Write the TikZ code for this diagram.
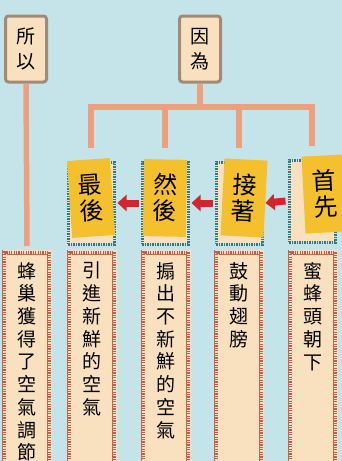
\documentclass[tikz,border=0pt]{standalone}
\usepackage{fontspec}
\newfontfamily\cjk{Noto Sans CJK TC}
\usetikzlibrary{arrows.meta, positioning}
\definecolor{skyback}{RGB}{196,228,233}
\definecolor{peach}{RGB}{249,224,190}
\definecolor{boxedge}{RGB}{162,139,116}
\definecolor{linkcol}{RGB}{238,160,126}
\definecolor{cardyellow}{RGB}{245,192,46}
\definecolor{cardblue}{RGB}{52,118,132}
\definecolor{arrowred}{RGB}{214,36,44}
\definecolor{dotred}{RGB}{200,90,80}

\begin{document}
\begin{tikzpicture}[x=1pt, y=-1pt, font=\cjk,
		topbox/.style={rectangle,rounded corners=3pt,draw=boxedge,line width=3pt,
			fill=peach,minimum width=41pt,minimum height=66pt,inner sep=0pt,
			align=center,font=\cjk\fontsize{19}{25}\selectfont},
		backcard/.style={rectangle,draw=cardblue,line width=3pt,
			dash pattern=on 1.5pt off 1pt,fill=peach,
			minimum width=46pt,minimum height=82pt},
		yellowcard/.style={rectangle,fill=cardyellow,minimum width=43pt,minimum height=77pt,
			inner sep=0pt,align=center,font=\cjk\fontsize{24}{26}\selectfont},
		scroll/.style={rectangle,draw=dotred!70!brown,line width=0.8pt,fill=peach,
			double=peach,double distance=4pt,
			postaction={draw=dotred,line width=3pt,dash pattern=on 1.2pt off 1.2pt},
			minimum width=45pt,minimum height=225pt,anchor=north},
		scrolltext/.style={align=center,anchor=north,inner sep=0pt,
			font=\cjk\fontsize{19}{22.7}\selectfont},
		link/.style={draw=linkcol,line width=5.5pt},
		stepleft/.style={draw=arrowred,line width=7pt,-{Triangle[length=9pt,width=16pt]}}
		]
		\clip (0,0) rectangle (342,461);
		\fill[skyback] (0,0) rectangle (342,461);

		% top boxes
		\node[topbox](suoyi) at (26,49){所\\以};
		\node[topbox](yinwei) at (200,49){因\\為};

		% cards
		\node[backcard](bk1) at (91,203){};
		\node[yellowcard, rotate=4](c1) at (91,198){最\\後};
		\node[backcard](bk2) at (165,203){};
		\node[yellowcard, rotate=-1](c2) at (165,198){然\\後};
		\node[backcard](bk3) at (239,203){};
		\node[yellowcard, rotate=-3](c3) at (244,198){接\\著};
		\node[backcard](bk4) at (312,201){};
		\node[yellowcard, rotate=3](c4) at (325,194){首\\先};

		% arrows between the cards
		\draw[stepleft] ([xshift=-2pt]bk2.west) -- ([xshift=2pt]bk1.east);
		\draw[stepleft] ([xshift=-2pt]bk3.west) -- ([xshift=2pt]bk2.east);
		\draw[stepleft] ([xshift=-2pt]bk4.west) -- ([xshift=2pt]bk3.east);

		% bottom scrolls
		\node[scroll](d1) at (27,252){};
		\node[scroll](d2) at (92,252){};
		\node[scroll](d3) at (166,252){};
		\node[scroll](d4) at (239,252){};
		\node[scroll](d5) at (313,252){};
		\node[scrolltext, below = 10pt of d1.north](t1){蜂\\巢\\獲\\得\\了\\空\\氣\\調\\節};
		\node[scrolltext, below = 10pt of d2.north](t2){引\\進\\新\\鮮\\的\\空\\氣};
		\node[scrolltext, below = 10pt of d3.north](t3){搧\\出\\不\\新\\鮮\\的\\空\\氣};
		\node[scrolltext, below = 10pt of d4.north](t4){鼓\\動\\翅\\膀};
		\node[scrolltext, below = 10pt of d5.north](t5){蜜\\蜂\\頭\\朝\\下};

		% connectors
		\coordinate (bar) at (200,107);
		\draw[link] (suoyi.south) -- ([yshift=6pt]d1.north);
		\draw[link] (yinwei.south) -- (bar);
		\draw[link] ([xshift=-2.75pt]bk1.north |- bar) -- ([xshift=2.75pt]bk4.north |- bar);
		\draw[link] (bk1.north |- bar) -- ([yshift=13pt]bk1.north);
		\draw[link] (bk2.north |- bar) -- ([yshift=13pt]bk2.north);
		\draw[link] (bk3.north |- bar) -- ([yshift=13pt]bk3.north);
		\draw[link] (bk4.north |- bar) -- ([yshift=13pt]bk4.north);
	\end{tikzpicture}
\end{document}
